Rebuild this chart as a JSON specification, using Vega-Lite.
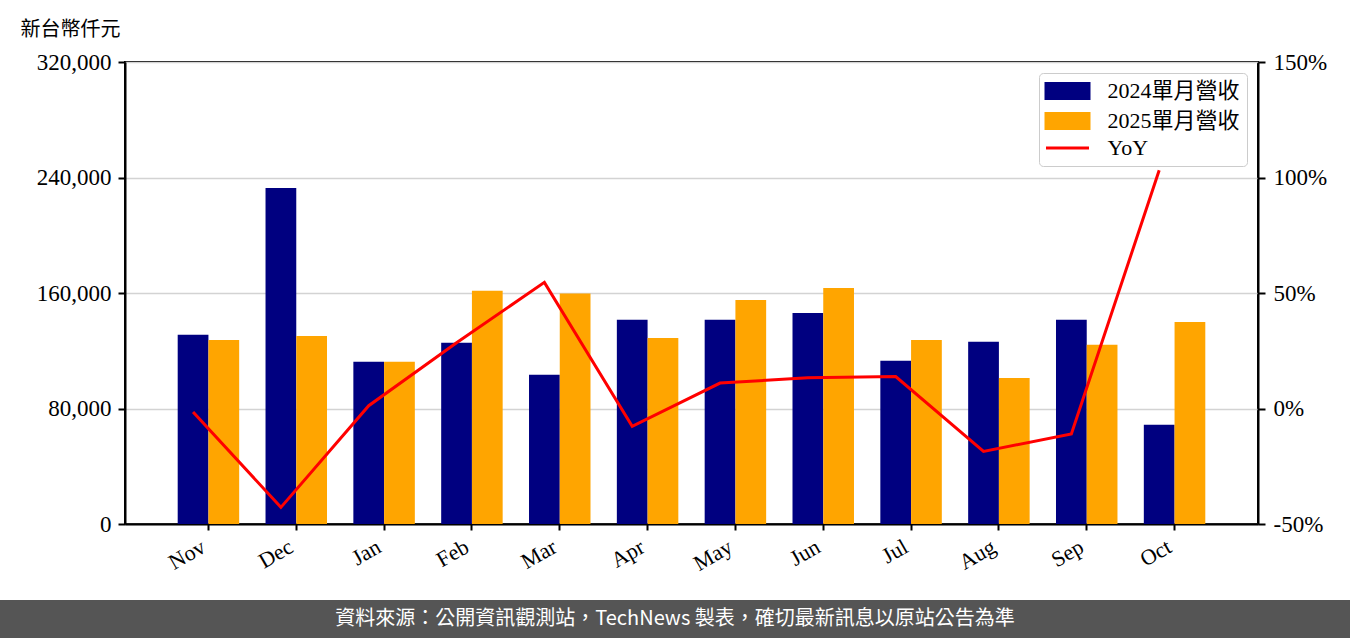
{
  "$schema": "https://vega.github.io/schema/vega-lite/v6.json",
  "padding": {"left": 0, "right": 0, "top": 18, "bottom": 0},
  "background": "white",
  "bounds": "full",
  "spacing": 24,
  "resolve": {"scale": {"color": "independent"}, "legend": {"color": "independent"}},
  "datasets": {
    "bars": [
      {"month": "Nov", "series": "2024單月營收", "value": 131000},
      {"month": "Nov", "series": "2025單月營收", "value": 127500},
      {"month": "Dec", "series": "2024單月營收", "value": 232700},
      {"month": "Dec", "series": "2025單月營收", "value": 130300},
      {"month": "Jan", "series": "2024單月營收", "value": 112300},
      {"month": "Jan", "series": "2025單月營收", "value": 112300},
      {"month": "Feb", "series": "2024單月營收", "value": 125500},
      {"month": "Feb", "series": "2025單月營收", "value": 161500},
      {"month": "Mar", "series": "2024單月營收", "value": 103300},
      {"month": "Mar", "series": "2025單月營收", "value": 159600},
      {"month": "Apr", "series": "2024單月營收", "value": 141400},
      {"month": "Apr", "series": "2025單月營收", "value": 128900},
      {"month": "May", "series": "2024單月營收", "value": 141400},
      {"month": "May", "series": "2025單月營收", "value": 155200},
      {"month": "Jun", "series": "2024單月營收", "value": 146200},
      {"month": "Jun", "series": "2025單月營收", "value": 163500},
      {"month": "Jul", "series": "2024單月營收", "value": 113000},
      {"month": "Jul", "series": "2025單月營收", "value": 127500},
      {"month": "Aug", "series": "2024單月營收", "value": 126200},
      {"month": "Aug", "series": "2025單月營收", "value": 101200},
      {"month": "Sep", "series": "2024單月營收", "value": 141400},
      {"month": "Sep", "series": "2025單月營收", "value": 124100},
      {"month": "Oct", "series": "2024單月營收", "value": 68700},
      {"month": "Oct", "series": "2025單月營收", "value": 140000}
    ],
    "yoy": [
      {"month": "Nov", "series": "YoY", "yoy": -1.5},
      {"month": "Dec", "series": "YoY", "yoy": -42.8},
      {"month": "Jan", "series": "YoY", "yoy": 1.2},
      {"month": "Feb", "series": "YoY", "yoy": 28.5},
      {"month": "Mar", "series": "YoY", "yoy": 54.6},
      {"month": "Apr", "series": "YoY", "yoy": -7.7},
      {"month": "May", "series": "YoY", "yoy": 11.0},
      {"month": "Jun", "series": "YoY", "yoy": 13.3},
      {"month": "Jul", "series": "YoY", "yoy": 13.8},
      {"month": "Aug", "series": "YoY", "yoy": -18.6},
      {"month": "Sep", "series": "YoY", "yoy": -11.0},
      {"month": "Oct", "series": "YoY", "yoy": 103.1}
    ],
    "footer": [
      {"note": "資料來源：公開資訊觀測站，TechNews 製表，確切最新訊息以原站公告為準"}
    ],
    "spacer": [
      {"s": 0}
    ]
  },
  "config": {
    "font": "Liberation Serif, Noto Sans CJK TC",
    "view": {"stroke": "black", "strokeWidth": 2},
    "axis": {
      "labelFont": "Liberation Serif, Noto Sans CJK TC",
      "labelFontSize": 23,
      "labelColor": "black",
      "domainColor": "black",
      "domainWidth": 2,
      "tickColor": "black",
      "tickWidth": 2,
      "tickSize": 7,
      "gridColor": "#d3d3d3",
      "gridWidth": 1.5
    },
    "legend": {
      "labelFont": "Liberation Serif, Noto Sans CJK TC",
      "labelFontSize": 22,
      "labelColor": "black",
      "labelLimit": 400
    }
  },
  "vconcat": [
    {
      "hconcat": [
        {
          "width": 125,
          "height": 1,
          "data": {"name": "spacer"},
          "mark": {"type": "point", "opacity": 0},
          "encoding": {},
          "view": {"stroke": null}
        },
        {
          "width": 1133,
          "height": 462,
          "layer": [
            {
              "data": {"name": "bars"},
              "mark": {"type": "bar"},
              "encoding": {
                "x": {
                  "field": "month",
                  "type": "nominal",
                  "sort": null,
                  "scale": {
                    "domain": ["Nov", "Dec", "Jan", "Feb", "Mar", "Apr", "May", "Jun", "Jul", "Aug", "Sep", "Oct"],
                    "paddingInner": 0.3,
                    "paddingOuter": 0.6
                  },
                  "axis": {
                    "title": null,
                    "labelAngle": -30,
                    "labelAlign": "right",
                    "labelBaseline": "top",
                    "labelPadding": 6,
                    "labelOffset": -10,
                    "labelFontSize": 22,
                    "tickSize": 6,
                    "grid": false
                  }
                },
                "xOffset": {
                  "field": "series",
                  "type": "nominal",
                  "scale": {"domain": ["2024單月營收", "2025單月營收"], "paddingInner": 0, "paddingOuter": 0}
                },
                "y": {
                  "field": "value",
                  "type": "quantitative",
                  "scale": {"domain": [0, 320000], "nice": false, "zero": true},
                  "axis": {
                    "title": "新台幣仟元",
                    "titleAngle": 0,
                    "titleAlign": "left",
                    "titleBaseline": "alphabetic",
                    "titleX": -105,
                    "titleY": -27,
                    "titleFont": "Noto Sans CJK TC",
                    "titleFontSize": 20,
                    "titleFontWeight": "normal",
                    "titleColor": "black",
                    "values": [0, 80000, 160000, 240000, 320000],
                    "format": ",.0f",
                    "grid": true,
                    "labelPadding": 7
                  }
                },
                "color": {
                  "field": "series",
                  "type": "nominal",
                  "scale": {
                    "domain": ["2024單月營收", "2025單月營收", "YoY"],
                    "range": ["#000080", "#FFA500", "#FF0000"]
                  },
                  "legend": {
                    "title": null,
                    "orient": "top-right",
                    "offset": 11,
                    "fillColor": "white",
                    "strokeColor": "#cccccc",
                    "cornerRadius": 4,
                    "padding": 7,
                    "rowPadding": 2,
                    "symbolSize": 100,
                    "symbolOffset": 10.5,
                    "labelOffset": 29,
                    "encode": {
                      "symbols": {
                        "update": {
                          "shape": {"signal": "datum.value === 'YoY' ? 'M-4.3,0H4.3' : 'M-4.3,-1.5H4.3V1.5H-4.3Z'"},
                          "fill": {"signal": "datum.value === 'YoY' ? 'transparent' : scale('color', datum.value)"},
                          "stroke": {"signal": "datum.value === 'YoY' ? '#ff0000' : 'transparent'"},
                          "strokeWidth": {"value": 3},
                          "opacity": {"value": 1}
                        }
                      }
                    }
                  }
                }
              }
            },
            {
              "data": {"name": "yoy"},
              "mark": {"type": "line", "strokeWidth": 3},
              "encoding": {
                "x": {"field": "month", "type": "nominal", "sort": null, "bandPosition": 0.25},
                "y": {
                  "field": "yoy",
                  "type": "quantitative",
                  "scale": {"domain": [-50, 150], "nice": false, "zero": false},
                  "axis": {
                    "orient": "right",
                    "title": null,
                    "values": [-50, 0, 50, 100, 150],
                    "labelExpr": "datum.value + '%'",
                    "grid": false,
                    "labelPadding": 8
                  }
                },
                "color": {"field": "series", "type": "nominal"}
              }
            }
          ],
          "resolve": {"scale": {"y": "independent"}}
        }
      ],
      "spacing": 0,
      "bounds": "flush",
      "resolve": {"scale": {"color": "independent"}, "legend": {"color": "independent"}}
    },
    {
      "width": 1350,
      "height": 38,
      "view": {"fill": "#555555", "stroke": null},
      "data": {"name": "footer"},
      "mark": {"type": "text", "color": "white", "font": "Noto Sans CJK TC", "fontSize": 20},
      "encoding": {"text": {"field": "note", "type": "nominal"}}
    }
  ]
}
